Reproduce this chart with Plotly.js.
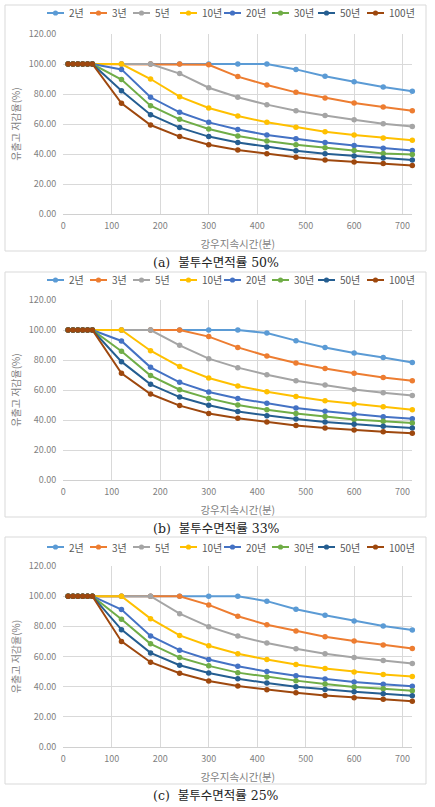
<!DOCTYPE html>
<html><head><meta charset="utf-8">
<script src="https://cdn.plot.ly/plotly-3.0.1.min.js"></script>
<style>html,body{margin:0;padding:0;background:#fff;}#c{width:435px;height:807px;}</style>
</head><body><div id="c"></div>
<script>
// ---- data ----
const durations = [10,20,30,40,50,60,120,180,240,300,360,420,480,540,600,660,720];
const seriesNames = ['2년','3년','5년','10년','20년','30년','50년','100년'];
const seriesColors = ['#5B9BD5','#ED7D31','#A5A5A5','#FFC000','#4472C4','#70AD47','#255E91','#9E480E'];
const captions = ['(a)  불투수면적률 50%','(b)  불투수면적률 33%','(c)  불투수면적률 25%'];
const xTitle = '강우지속시간(분)';
const yTitle = '유출고 저감율(%)';
const head = [100,100,100,100,100,100];

// panel (a) 50%
const a_2yr   = head.concat([100,100,100,100,100,100,96.4,91.8,88.2,84.7,81.8]);
const a_3yr   = head.concat([100,100,100,99.5,91.6,86.0,81.1,77.3,74.0,71.3,68.9]);
const a_5yr   = head.concat([100,100,93.6,84.2,77.8,72.9,68.9,65.6,62.9,60.2,58.4]);
const a_10yr  = head.concat([100,90.0,78.2,70.7,65.3,61.1,57.8,54.9,52.7,50.7,49.1]);
const a_20yr  = head.concat([96.4,77.8,67.8,61.1,56.4,52.7,50.2,47.6,45.6,43.8,42.4]);
const a_30yr  = head.concat([89.6,72.2,63.1,56.7,52.0,48.7,46.2,44.2,42.4,40.4,39.6]);
const a_50yr  = head.concat([82.2,66.2,57.6,51.6,47.6,44.7,42.2,40.2,38.7,37.3,36.0]);
const a_100yr = head.concat([73.8,59.3,51.6,46.2,42.7,40.2,37.8,36.0,34.7,33.6,32.4]);
// panel (b) 33%
const b_2yr   = head.concat([100,100,100,100,100,98.0,92.9,88.4,84.7,81.6,78.4]);
const b_3yr   = head.concat([100,100,100,95.6,88.4,82.7,78.0,74.4,71.1,68.4,66.2]);
const b_5yr   = head.concat([100,100,89.8,80.9,74.9,70.2,66.2,63.3,60.4,58.2,56.4]);
const b_10yr  = head.concat([100,86.2,75.6,68.0,62.7,58.9,55.6,52.9,50.7,48.9,46.9]);
const b_20yr  = head.concat([92.7,75.1,65.1,58.7,54.4,51.1,48.0,45.8,43.8,42.2,40.9]);
const b_30yr  = head.concat([85.8,69.6,60.2,54.4,50.0,46.9,44.4,42.4,40.4,39.1,38.0]);
const b_50yr  = head.concat([78.9,63.8,55.3,49.8,45.6,42.9,40.7,38.7,37.1,35.8,34.7]);
const b_100yr = head.concat([71.1,57.3,49.6,44.4,41.1,38.7,36.4,34.7,33.3,32.2,31.1]);
// panel (c) 25%
const c_2yr   = head.concat([100,100,100,100,100,96.7,91.3,87.3,83.6,80.2,77.6]);
const c_3yr   = head.concat([100,100,100,94.2,86.7,81.1,76.9,73.1,70.2,67.6,65.3]);
const c_5yr   = head.concat([100,100,88.4,79.8,73.6,68.9,65.1,61.8,59.3,57.3,55.3]);
const c_10yr  = head.concat([100,85.1,74.0,67.1,61.8,58.0,54.7,52.0,49.8,48.0,46.7]);
const c_20yr  = head.concat([91.1,73.6,64.2,58.0,53.6,50.0,47.3,45.1,43.1,41.6,40.2]);
const c_30yr  = head.concat([84.7,68.4,59.3,53.8,49.3,46.4,44.0,41.8,39.8,38.7,37.3]);
const c_50yr  = head.concat([77.8,62.4,54.2,49.1,45.3,42.4,40.0,38.2,36.7,35.3,34.0]);
const c_100yr = head.concat([70.0,56.2,48.9,43.8,40.4,38.0,36.0,34.2,32.7,31.6,30.4]);

const panels = [
  [a_2yr,a_3yr,a_5yr,a_10yr,a_20yr,a_30yr,a_50yr,a_100yr],
  [b_2yr,b_3yr,b_5yr,b_10yr,b_20yr,b_30yr,b_50yr,b_100yr],
  [c_2yr,c_3yr,c_5yr,c_10yr,c_20yr,c_30yr,c_50yr,c_100yr]
];

// ---- layout geometry (pixels) ----
const W = 435, H = 807;
const FONT = '"Noto Sans CJK KR", "Noto Sans", sans-serif';
const geo = [
  {boxTop:5,   boxBot:251, legY:13,  plotTop:34,  plotBot:214, capY:262},
  {boxTop:272, boxBot:517, legY:280, plotTop:300, plotBot:480, capY:528},
  {boxTop:537, boxBot:784, legY:547, plotTop:566, plotBot:747, capY:795}
];
const legX = [47, 90, 133, 180, 224, 272, 318, 367];
const px = v => v / W, py = v => 1 - v / H;

const traces = [];
const shapes = [];
const annotations = [];
const layout = {
  width: W, height: H,
  margin: {l:0, r:0, t:0, b:0},
  paper_bgcolor: '#fff', plot_bgcolor: '#fff',
  showlegend: false,
  font: {family: FONT, size: 10, color: '#595959'}
};

panels.forEach((series, p) => {
  const g = geo[p];
  const sfx = p === 0 ? '' : String(p + 1);
  series.forEach((vals, i) => {
    traces.push({
      type: 'scatter', mode: 'lines+markers',
      x: durations, y: vals, name: seriesNames[i],
      xaxis: 'x' + sfx, yaxis: 'y' + sfx,
      line: {color: seriesColors[i], width: 2},
      marker: {color: seriesColors[i], size: 5.5, symbol: 'circle'},
      cliponaxis: false
    });
  });
  layout['xaxis' + sfx] = {
    domain: [px(63.3), px(412.3)], anchor: 'y' + sfx,
    range: [0, 720], dtick: 100, tick0: 0,
    showgrid: true, gridcolor: '#D9D9D9', gridwidth: 1,
    zeroline: false, showline: true, linecolor: '#D0D0D0', linewidth: 1,
    ticks: '', ticklabelstandoff: 3,
    tickfont: {family: FONT, size: 9, color: '#7F7F7F'},
    title: {text: xTitle, font: {family: FONT, size: 10.5, color: '#7F7F7F'}, standoff: 9},
    automargin: false, fixedrange: true
  };
  layout['yaxis' + sfx] = {
    domain: [py(g.plotBot), py(g.plotTop)], anchor: 'x' + sfx,
    range: [0, 120], dtick: 20, tick0: 0, tickformat: '.2f',
    showgrid: true, gridcolor: '#D9D9D9', gridwidth: 1,
    zeroline: false, showline: false,
    ticks: '', ticklabelstandoff: 6,
    tickfont: {family: FONT, size: 9, color: '#7F7F7F'},
    title: {text: yTitle, font: {family: FONT, size: 10, color: '#7F7F7F'}, standoff: 6},
    automargin: false, fixedrange: true
  };
  // panel frame
  shapes.push({type:'rect', xref:'paper', yref:'paper',
    x0: px(5), x1: px(426), y0: py(g.boxBot), y1: py(g.boxTop),
    line: {color:'#D9D9D9', width:1}, fillcolor:'rgba(0,0,0,0)', layer:'below'});
  // legend row
  seriesNames.forEach((nm, i) => {
    const x0 = legX[i];
    shapes.push({type:'line', xref:'paper', yref:'paper',
      x0: px(x0), x1: px(x0 + 17), y0: py(g.legY), y1: py(g.legY),
      line: {color: seriesColors[i], width: 2}});
    shapes.push({type:'circle', xref:'paper', yref:'paper',
      x0: px(x0 + 8.5 - 2.6), x1: px(x0 + 8.5 + 2.6), y0: py(g.legY + 2.6), y1: py(g.legY - 2.6),
      line: {color: seriesColors[i], width: 0}, fillcolor: seriesColors[i]});
    annotations.push({xref:'paper', yref:'paper', x: px(x0 + 20), y: py(g.legY),
      xanchor:'left', yanchor:'middle', showarrow:false, text: nm,
      font: {family: FONT, size: 10, color: '#595959'}});
  });
  // caption
  annotations.push({xref:'paper', yref:'paper', x: px(216), y: py(g.capY),
    xanchor:'center', yanchor:'middle', showarrow:false, text: captions[p],
    font: {family: '"DejaVu Serif", "Noto Sans CJK KR", serif', size: 12.5, color: '#222'}});
});

layout.shapes = shapes;
layout.annotations = annotations;
Plotly.newPlot('c', traces, layout, {staticPlot: true, displayModeBar: false});
</script></body></html>
